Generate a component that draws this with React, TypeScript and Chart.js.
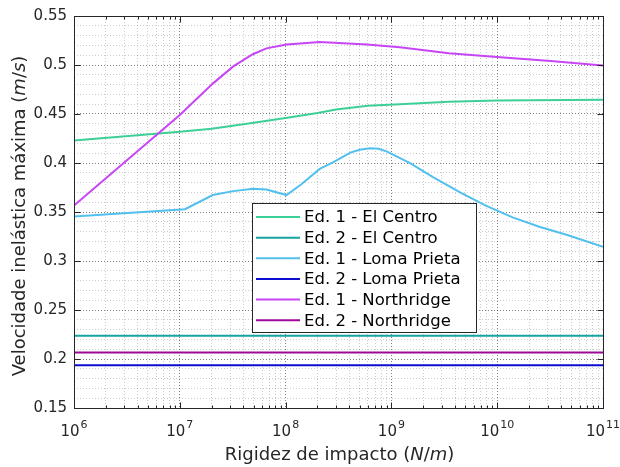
import React, { useEffect, useRef } from 'react';
import { Chart, registerables } from 'chart.js';

Chart.register(...registerables);

// ---- Data ----
const seriesLabels = [
  'Ed. 1 - El Centro',
  'Ed. 2 - El Centro',
  'Ed. 1 - Loma Prieta',
  'Ed. 2 - Loma Prieta',
  'Ed. 1 - Northridge',
  'Ed. 2 - Northridge',
];

const kElCentro1 = [1e6, 1e7, 2e7, 5e7, 1e8, 2e8, 3e8, 6e8, 1.2e9, 3.5e9, 1e10, 1e11];
const vElCentro1 = [0.423, 0.4318, 0.435, 0.441, 0.446, 0.451, 0.4545, 0.4585, 0.46, 0.4625, 0.4637, 0.4645];

const kElCentro2 = [1e6, 1e11];
const vElCentro2 = [0.2237, 0.2237];

const kLomaPrieta1 = [
  1e6, 1.12e7, 2.05e7, 3.2e7, 4.9e7, 6.6e7, 1.02e8, 1.4e8, 2.1e8, 2.8e8, 4.1e8, 5e8,
  6.3e8, 7.6e8, 9.1e8, 1.5e9, 2.45e9, 4.5e9, 7.9e9, 1.4e10, 2.5e10, 4.6e10, 1e11,
];
const vLomaPrieta1 = [
  0.3455, 0.3528, 0.3673, 0.3713, 0.3737, 0.373, 0.3673, 0.378, 0.394, 0.4006, 0.4106, 0.4135,
  0.415, 0.4145, 0.4116, 0.3999, 0.3858, 0.3697, 0.3563, 0.3445, 0.335, 0.3265, 0.3145,
];

const kLomaPrieta2 = [1e6, 1e11];
const vLomaPrieta2 = [0.1936, 0.1936];

const kNorthridge1 = [
  1e6, 1e7, 2.05e7, 3.2e7, 4.9e7, 6.6e7, 1.02e8, 2.1e8, 5.9e8, 1.2e9, 3.5e9, 1.07e10, 3.2e10, 1e11,
];
const vNorthridge1 = [
  0.3566, 0.449, 0.481, 0.4986, 0.511, 0.517, 0.521, 0.5235, 0.521, 0.518, 0.512, 0.508, 0.504, 0.4995,
];

const kNorthridge2 = [1e6, 1e11];
const vNorthridge2 = [0.2067, 0.2067];

const seriesColors = ['#3dcf98', '#17a3a0', '#52c0ef', '#0c0cd0', '#c845f5', '#9c0898'];

const xMin = 1e6;
const xMax = 1e11;
const yMin = 0.15;
const yMax = 0.55;
const yMinorStep = 0.01;
const yMajorStep = 0.05;

const TEXT = '#262626';
const FONT = '"DejaVu Sans", "Liberation Sans", sans-serif';

const isDecade = (v: number) => Math.abs(Math.log10(v) - Math.round(Math.log10(v))) < 1e-9;
const isYMajor = (v: number) => Math.abs(v / yMajorStep - Math.round(v / yMajorStep)) < 1e-6;

function drawSegments(ctx: CanvasRenderingContext2D, segs: [string, boolean][], cx: number, baseY: number, size: number) {
  let total = 0;
  const widths: number[] = [];
  segs.forEach(([t, it]) => {
    ctx.font = `${it ? 'italic ' : ''}${size}px ${FONT}`;
    const w = ctx.measureText(t).width;
    widths.push(w);
    total += w;
  });
  let x = cx - total / 2;
  segs.forEach(([t, it], i) => {
    ctx.font = `${it ? 'italic ' : ''}${size}px ${FONT}`;
    ctx.fillText(t, x, baseY);
    x += widths[i];
  });
}

const framePlugin = {
  id: 'matlabFrame',
  afterDraw(chart: any) {
    const { ctx, chartArea } = chart;
    const { left, right, top, bottom } = chartArea;
    const xs = chart.scales.x;
    const ys = chart.scales.y;
    ctx.save();
    ctx.strokeStyle = TEXT;
    ctx.lineWidth = 1;
    ctx.setLineDash([]);
    const L = Math.round(left) + 0.5;
    const R = Math.round(right) + 0.5;
    const T = Math.round(top) + 0.5;
    const B = Math.round(bottom) + 0.5;
    ctx.beginPath();
    xs.ticks.forEach((t: any) => {
      const px = Math.round(xs.getPixelForValue(t.value)) + 0.5;
      const len = t.major ? 6 : 3;
      ctx.moveTo(px, B);
      ctx.lineTo(px, B - len);
      ctx.moveTo(px, T);
      ctx.lineTo(px, T + len);
    });
    ys.ticks.forEach((t: any) => {
      if (!isYMajor(t.value)) return;
      const py = Math.round(ys.getPixelForValue(t.value)) + 0.5;
      ctx.moveTo(L, py);
      ctx.lineTo(L + 6, py);
      ctx.moveTo(R, py);
      ctx.lineTo(R - 6, py);
    });
    ctx.stroke();
    ctx.strokeRect(L, T, R - L, B - T);

    // x tick labels 10^n
    ctx.fillStyle = TEXT;
    ctx.textBaseline = 'alphabetic';
    ctx.textAlign = 'left';
    xs.ticks.forEach((t: any) => {
      if (!t.major) return;
      const px = xs.getPixelForValue(t.value);
      const exp = String(Math.round(Math.log10(t.value)));
      ctx.font = `15px ${FONT}`;
      const w1 = ctx.measureText('10').width;
      ctx.font = `11px ${FONT}`;
      const w2 = ctx.measureText(exp).width;
      const sx = px - (w1 + 1 + w2) / 2;
      ctx.font = `15px ${FONT}`;
      ctx.fillText('10', sx, bottom + 28);
      ctx.font = `11px ${FONT}`;
      ctx.fillText(exp, sx + w1 + 1, bottom + 20);
    });

    // axis titles
    drawSegments(
      ctx,
      [['Rigidez de impacto (', false], ['N', true], ['/', false], ['m', true], [')', false]],
      (left + right) / 2 + 1,
      bottom + 52,
      18,
    );
    ctx.save();
    ctx.translate(24.5, (top + bottom) / 2 + 4);
    ctx.rotate(-Math.PI / 2);
    drawSegments(
      ctx,
      [['Velocidade inelástica máxima (', false], ['m', true], ['/', false], ['s', true], [')', false]],
      0,
      0,
      18,
    );
    ctx.restore();

    // legend box
    const lx = left + 178;
    const ly = top + 187;
    const lw = 224;
    const lh = 129;
    ctx.fillStyle = '#ffffff';
    ctx.fillRect(lx, ly, lw, lh);
    ctx.strokeStyle = TEXT;
    ctx.lineWidth = 1;
    ctx.strokeRect(Math.round(lx) + 0.5, Math.round(ly) + 0.5, lw, lh);
    ctx.font = `16.5px ${FONT}`;
    ctx.textBaseline = 'middle';
    chart.data.datasets.forEach((ds: any, i: number) => {
      const cy = ly + 14 + i * 20.65;
      ctx.strokeStyle = ds.borderColor;
      ctx.lineWidth = 2;
      ctx.beginPath();
      ctx.moveTo(lx + 4, cy);
      ctx.lineTo(lx + 48, cy);
      ctx.stroke();
      ctx.fillStyle = '#000000';
      ctx.fillText(ds.label, lx + 52, cy + 1);
    });
    ctx.restore();
  },
};

export default function App() {
  const canvasRef = useRef<HTMLCanvasElement | null>(null);

  useEffect(() => {
    const canvas = canvasRef.current;
    if (!canvas) return;
    const xs = [kElCentro1, kElCentro2, kLomaPrieta1, kLomaPrieta2, kNorthridge1, kNorthridge2];
    const vs = [vElCentro1, vElCentro2, vLomaPrieta1, vLomaPrieta2, vNorthridge1, vNorthridge2];

    const gridColor = (c: any) => (c.tick && c.tick.major ? 'rgba(0,0,0,0.5)' : 'rgba(0,0,0,0.2)');

    const chart = new Chart(canvas, {
      type: 'line',
      data: {
        datasets: seriesLabels.map((label, i) => ({
          label,
          data: xs[i].map((x, j) => ({ x, y: vs[i][j] })),
          borderColor: seriesColors[i],
          backgroundColor: seriesColors[i],
          borderWidth: 2,
          pointRadius: 0,
          tension: 0,
          fill: false,
          order: seriesLabels.length - i,
        })),
      },
      options: {
        responsive: false,
        animation: false,
        devicePixelRatio: 1,
        layout: { padding: { left: 0, top: 11, right: 17, bottom: 0 } },
        plugins: {
          legend: { display: false },
          tooltip: { enabled: false },
        },
        scales: {
          x: {
            type: 'logarithmic',
            min: xMin,
            max: xMax,
            position: 'bottom',
            afterBuildTicks: (scale: any) => {
              const ticks: any[] = [];
              for (let e = Math.round(Math.log10(xMin)); e < Math.round(Math.log10(xMax)); e++) {
                for (let k = 1; k < 10; k++) {
                  const v = k * Math.pow(10, e);
                  ticks.push({ value: v, major: k === 1 });
                }
              }
              ticks.push({ value: xMax, major: true });
              scale.ticks = ticks;
            },
            afterFit: (scale: any) => {
              scale.height = 59;
            },
            ticks: { display: false, autoSkip: false },
            grid: { color: gridColor, lineWidth: 1, drawTicks: false },
            border: { display: false, dash: [1, 2] },
          },
          y: {
            type: 'linear',
            min: yMin,
            max: yMax,
            afterBuildTicks: (scale: any) => {
              const n = Math.round((yMax - yMin) / yMinorStep);
              const ticks: any[] = [];
              for (let i = 0; i <= n; i++) {
                const v = Math.round((yMin + i * yMinorStep) * 1000) / 1000;
                ticks.push({ value: v, major: isYMajor(v) });
              }
              scale.ticks = ticks;
            },
            afterFit: (scale: any) => {
              scale.width = 74;
            },
            ticks: {
              autoSkip: false,
              padding: 7,
              color: TEXT,
              font: { family: FONT, size: 15 },
              callback: (v: any) => (isYMajor(Number(v)) ? String(parseFloat(Number(v).toFixed(2))) : ''),
            },
            grid: { color: gridColor, lineWidth: 1, drawTicks: false },
            border: { display: false, dash: [1, 2] },
          },
        },
      } as any,
      plugins: [framePlugin],
    });
    return () => chart.destroy();
  }, []);

  return (
    <div style={{ position: 'absolute', left: 0, top: 0, width: 620, height: 467, background: '#fff' }}>
      <canvas ref={canvasRef} width={620} height={467} style={{ display: 'block' }} />
    </div>
  );
}
